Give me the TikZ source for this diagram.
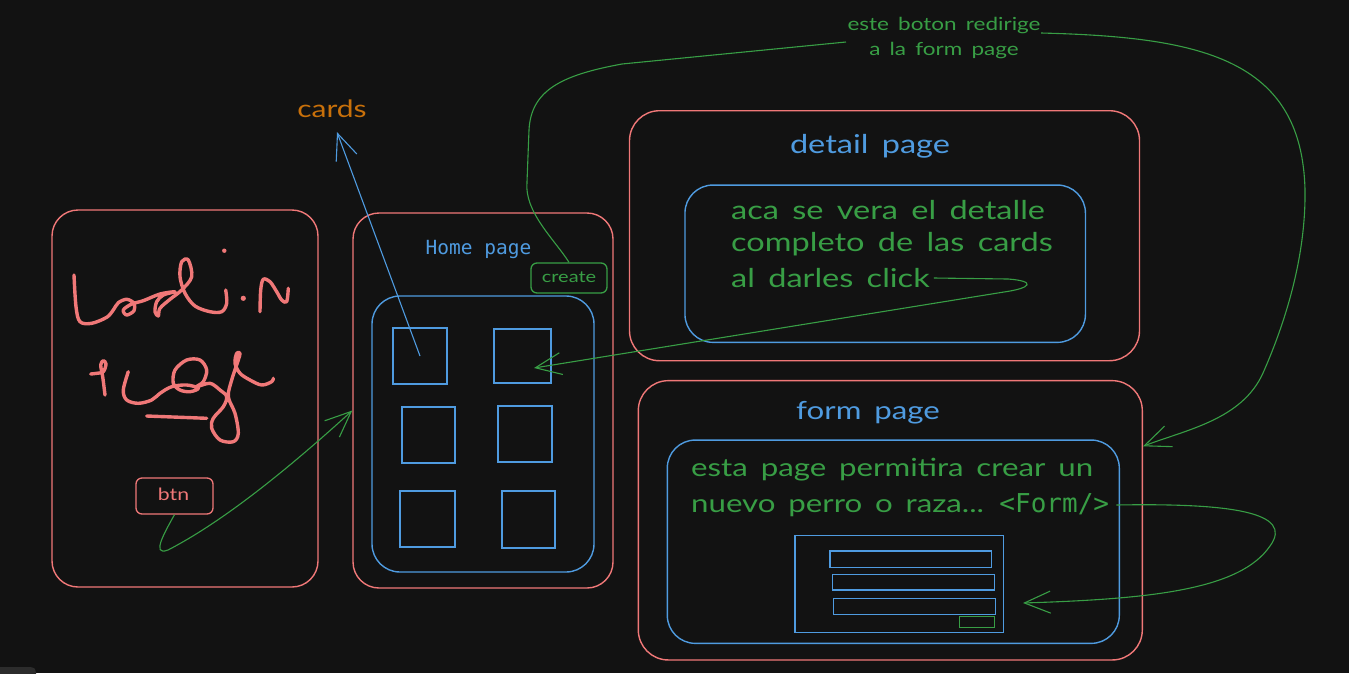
\documentclass[tikz,border=0pt]{standalone}
\usepackage{fontspec}
\setmainfont{Lato}
\newfontfamily\handfont[FakeStretch=1.25, WordSpace=1.6]{Lato}
\newfontfamily\codefont{DejaVu Sans Mono}
\usetikzlibrary{arrows.meta,calc}

\definecolor{canvas}{HTML}{121212}
\definecolor{pagered}{HTML}{F07878}
\definecolor{uiblue}{HTML}{4F9BE0}
\definecolor{linkgreen}{HTML}{389E45}
\definecolor{noteorange}{HTML}{C8700A}
\definecolor{dockgrey}{HTML}{2C2C2C}

\tikzset{
  page/.style={draw=pagered, line width=1.4pt, rounded corners=26pt, inner sep=0pt},
  panel/.style={draw=uiblue, line width=1.4pt, rounded corners=28pt, inner sep=0pt},
  tile/.style={draw=uiblue, line width=1.3pt, inner sep=0pt},
  smallbtn/.style={line width=1.3pt, rounded corners=6pt, inner sep=0pt},
  hand/.style={inner sep=1pt},
  wire/.style={draw=linkgreen, line width=1.1pt},
  link/.style={wire, -{Straight Barb[length=26pt,width=22pt,line width=1.1pt]}},
  scribble/.style={draw=pagered, line width=3.4pt, line cap=round, line join=round},
}

\begin{document}
\begin{tikzpicture}[x=1pt,y=-1pt]
\fill[canvas] (0,0) rectangle (1349,673);
\useasboundingbox (0,0) rectangle (1349,673);

% small dock tab in the lower left corner
\fill[dockgrey, rounded corners=3pt] (-5,667) -- (33,667) -- (36,670) -- (36,678) -- (-5,678) -- cycle;

% ---------- landing page ----------
\node[page, minimum width=266pt, minimum height=377pt] (landing) at (185,398.5) {};
\node[smallbtn, draw=pagered, minimum width=77pt, minimum height=36pt] (btn) at (174.5,496) {};
\node[hand, text=pagered, font=\handfont\fontsize{17}{18}\selectfont] (btnlabel) at (173.5,494) {btn};

% freehand "Landin page"
\draw[scribble] plot[smooth, tension=0.55] coordinates {
  (74,275) (76,306.7) (80,321.7) (91.7,323.3) (106.7,317.3) (113.3,310)
  (118.3,302.7) (126.7,299.3) (134,303.3) (134,310.7) (126.7,315) (123.3,310)
  (131.7,304) (143.3,300.7) (160,294) (175,291.7) (163.3,295) (156.7,301.7)
  (155,311.7) (158.3,316) (160,308.3) (170,299.3) (181.7,290) (191.7,276.7)
  (188.3,260) (181.7,261.7) (180,276.7) (185,293.3) (195,306) (210,311.7)
  (221.7,311.7) (226.7,303.3) (225.7,290)};
\fill[pagered] (224.3,250.7) circle (2.2pt);
\fill[pagered] (243.3,298.3) circle (2.6pt);
\draw[scribble] plot[smooth, tension=0.55] coordinates {
  (260,311.7) (260.7,290) (263.3,279.3) (270,281.7) (276.7,291.7)
  (281.7,300) (286.7,301.7) (288.3,288.3)};
\draw[scribble] plot[smooth, tension=0.55] coordinates {
  (105,395) (102.7,376.7) (100.7,365) (103.3,360.7) (106,364) (103.3,371.7)
  (96.7,373.3) (90.7,374)};
\draw[scribble] plot[smooth, tension=0.55] coordinates {
  (128.3,371.7) (123.3,390) (126.7,400) (138.3,403.3) (151.7,400) (160,393.3)
  (171.7,386.7) (186.7,385) (198.3,388.3) (190,391.7) (180,390) (173.3,383.3)
  (175,370) (186.7,360) (200,360) (206.7,370) (203.3,381.7) (196.7,386.7)
  (210,383.3) (220,390) (226.7,396.7) (223.3,406.7) (213.3,418.3) (211.7,428.3)
  (220,440) (233.3,441.7) (238.3,433.3) (235,413.3) (228.3,396.7) (231.7,380)
  (238.3,360) (240,353.3) (236.7,353.3) (235,363.3) (240,373.3) (250,380)
  (261.7,385) (271.7,381.7) (273.3,378.3)};
\draw[scribble] (146.7,416) -- (206.7,418.3);

% ---------- home page ----------
\node[page, minimum width=260pt, minimum height=375pt] (home) at (483,400.5) {};
\node[hand, text=uiblue, font=\codefont\fontsize{19.5}{22}\selectfont] (hometitle) at (478.5,249.5) {Home page};
\node[smallbtn, draw=linkgreen, minimum width=76pt, minimum height=30pt] (create) at (569,278) {};
\node[hand, text=linkgreen, font=\handfont\fontsize{16}{18}\selectfont] (createlabel) at (569,277) {create};
\node[panel, minimum width=222pt, minimum height=276pt] (grid) at (483,434) {};
\node[tile, minimum width=54pt, minimum height=56pt] (c1) at (420,356) {};
\node[tile, minimum width=57pt, minimum height=54pt] (c2) at (522.5,356) {};
\node[tile, minimum width=53pt, minimum height=56pt] (c3) at (428.5,435) {};
\node[tile, minimum width=54pt, minimum height=56pt] (c4) at (525,434) {};
\node[tile, minimum width=55pt, minimum height=56pt] (c5) at (427.5,519) {};
\node[tile, minimum width=53pt, minimum height=57pt] (c6) at (528.5,519.5) {};

\node[hand, text=noteorange, font=\handfont\fontsize{24}{26}\selectfont] (cards) at (332,109) {cards};

% ---------- detail page ----------
\node[page, rounded corners=30pt, minimum width=510pt, minimum height=250pt] (detail) at (884.5,235.7) {};
\node[hand, text=uiblue, font=\handfont\fontsize{26}{28}\selectfont] (detailtitle) at (870,146) {detail page};
\node[panel, minimum width=400.5pt, minimum height=157.3pt] (detailpanel) at (885.2,263.7) {};
\node[hand, anchor=west, text=linkgreen, font=\handfont\fontsize{26}{28}\selectfont] (dline1) at (730,210) {aca se vera el detalle};
\node[hand, anchor=west, text=linkgreen, font=\handfont\fontsize{26}{28}\selectfont] (dline2) at (730,244) {completo de las cards};
\node[hand, anchor=west, text=linkgreen, font=\handfont\fontsize{26}{28}\selectfont] (dline3) at (730,278) {al darles click};

% ---------- form page ----------
\node[page, rounded corners=30pt, minimum width=504pt, minimum height=279.3pt] (form) at (890.3,520.3) {};
\node[hand, text=uiblue, font=\handfont\fontsize{25}{28}\selectfont] (formtitle) at (868,413) {form page};
\node[panel, minimum width=452pt, minimum height=203.3pt] (formpanel) at (893.3,541.7) {};
\node[hand, anchor=west, text=linkgreen, font=\handfont\fontsize{25}{28}\selectfont] (fline1) at (690,470) {esta page permitira crear un};
\node[hand, anchor=west, text=linkgreen, font=\handfont\fontsize{25}{28}\selectfont] (fline2) at (690,505) {nuevo perro o raza... {\codefont\fontsize{26}{28}\selectfont<Form/>}};
\node[tile, minimum width=208.3pt, minimum height=96.6pt] (formsketch) at (899.2,584) {};
\node[tile, minimum width=161.7pt, minimum height=16.3pt] (input1) at (910.8,559.2) {};
\node[tile, minimum width=162pt, minimum height=15.7pt] (input2) at (913.3,582.2) {};
\node[tile, minimum width=162.4pt, minimum height=16pt] (input3) at (914.5,606.3) {};
\node[draw=linkgreen, line width=1.3pt, inner sep=0pt, minimum width=35pt, minimum height=11pt] (submit) at (976.8,622.2) {};

% ---------- note on the create button ----------
\node[hand, text=linkgreen, align=center, font=\handfont\fontsize{18}{25}\selectfont] (redirect) at (944,38) {este boton redirige\\a la form page};
\coordinate (redirL) at (846,42);
\coordinate (redirR) at (1041,33);

% ---------- connectors ----------
\draw[link, draw=uiblue] (c1.center) -- ([shift={(5pt,-13pt)}]cards.south);
\draw[link] (btn.south) .. controls (166,530) and (150,557) .. (168,550)
  .. controls (230,518) and (300,458) .. ([yshift=-10pt]home.west);
\draw[link] ([xshift=3pt]dline3.east) -- (1008,279) .. controls (1036,281) and (1032,288) .. (1004,292)
  -- ([shift={(11.5pt,-12pt)}]c2.center);
\draw[link] ([xshift=6pt]fline2.east) .. controls (1230,503) and (1295,512) .. (1270,546)
  .. controls (1240,590) and (1150,599) .. ([shift={(19pt,-19pt)}]formsketch.east);
\draw[wire] (create.north) .. controls (555,240) and (524,212) .. (527,182)
  -- (529,130) .. controls (531,90) and (562,75) .. (622,64) -- (redirL);
\draw[link] (redirR) .. controls (1200,37) and (1302,58) .. (1305,190)
  .. controls (1306,262) and (1282,330) .. (1263,373)
  .. controls (1242,420) and (1185,430) .. ([yshift=74pt]form.east);
\end{tikzpicture}
\end{document}
